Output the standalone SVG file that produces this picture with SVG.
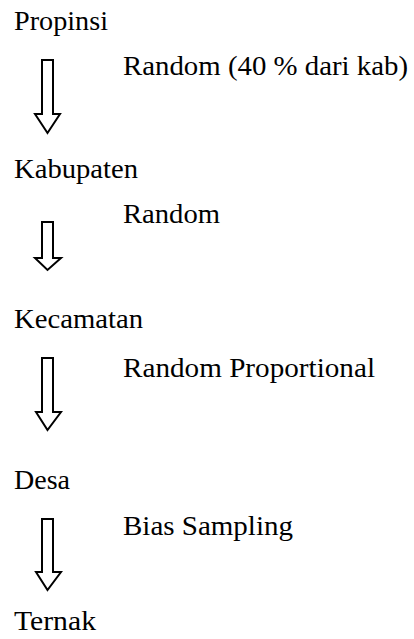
<svg xmlns="http://www.w3.org/2000/svg" width="414" height="639" viewBox="0 0 414 639">
<style>
text{font-family:"Liberation Serif","Times New Roman",Times,"DejaVu Serif","Noto Serif",serif;font-size:27px;fill:#000}
.arr{fill:#fff;stroke:#000;stroke-width:2;stroke-linejoin:miter}
</style>
<rect width="414" height="639" fill="#fff"/>
<g id="propinsi"><text x="14" y="30" textLength="94" lengthAdjust="spacingAndGlyphs">Propinsi</text></g>
<g id="kabupaten"><text x="14" y="178" textLength="124" lengthAdjust="spacingAndGlyphs">Kabupaten</text></g>
<g id="kecamatan"><text x="14" y="328" textLength="129" lengthAdjust="spacingAndGlyphs">Kecamatan</text></g>
<g id="desa"><text x="14" y="489" textLength="56" lengthAdjust="spacingAndGlyphs">Desa</text></g>
<g id="ternak"><text x="14" y="630" textLength="82" lengthAdjust="spacingAndGlyphs">Ternak</text></g>
<g id="connectors">
<g id="c1"><polygon class="arr" points="42,60 53,60 53,114 60,114 47.5,133 35,114 42,114"/><text x="123" y="75" textLength="285" lengthAdjust="spacingAndGlyphs">Random (40 % dari kab)</text></g>
<g id="c2"><polygon class="arr" points="42,222 53,222 53,258 61,258 47.5,270 35,258 42,258"/><text x="123" y="223" textLength="97" lengthAdjust="spacingAndGlyphs">Random</text></g>
<g id="c3"><polygon class="arr" points="42,358 53,358 53,412 61,412 47.5,430 36,412 42,412"/><text x="123" y="377" textLength="252" lengthAdjust="spacingAndGlyphs">Random Proportional</text></g>
<g id="c4"><polygon class="arr" points="42,519 53,519 53,572 61,572 47.5,590 36,572 42,572"/><text x="123" y="535" textLength="170" lengthAdjust="spacingAndGlyphs">Bias Sampling</text></g>
</g>
</svg>
